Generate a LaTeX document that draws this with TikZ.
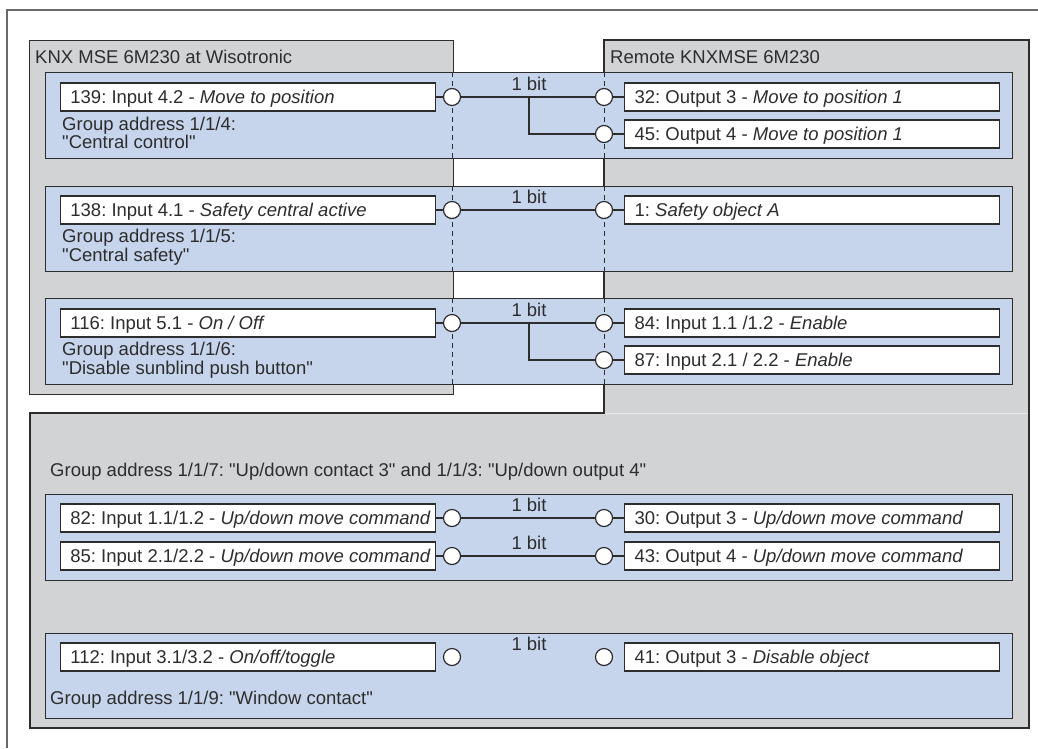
\documentclass[tikz,border=0pt]{standalone}
\usepackage{fontspec}
\setmainfont{Liberation Sans}
\frenchspacing
\definecolor{boxgray}{RGB}{210,211,213}
\definecolor{bandblue}{RGB}{198,212,236}
\definecolor{ink}{RGB}{45,45,45}
\definecolor{framegray}{RGB}{105,105,105}
% object label: fixed text field, left aligned
\newcommand\objtext[1]{\makebox[355pt][l]{#1}}
\newcommand\qd{\textquotedbl}
\tikzset{
  txt/.style={font=\fontsize{18.5}{20}\selectfont, text=ink, inner sep=0pt},
  device/.style={draw=ink, line width=1.3pt, fill=boxgray},
  band/.style={draw=ink, line width=1.3pt, fill=bandblue, inner sep=0pt, minimum width=967pt, anchor=north west},
  objbox/.style={txt, draw=ink, line width=1.2pt, fill=white, minimum width=375pt,
    minimum height=28pt, inner xsep=10pt, inner ysep=0pt, text height=13pt, text depth=0pt},
  lbox/.style={objbox, anchor=east},
  rbox/.style={objbox, anchor=west},
  port/.style={circle, draw=ink, line width=1.2pt, fill=white, minimum size=17pt, inner sep=0pt},
  wire/.style={draw=ink, line width=1.2pt},
  divider/.style={draw=ink, line width=1pt, dash pattern=on 5pt off 4pt},
  bitlabel/.style={txt, anchor=base},
  caption/.style={txt, anchor=base west},
}
\begin{document}
\begin{tikzpicture}[x=1pt, y=-1pt]
\useasboundingbox (0,0) rectangle (1038,748);

% outer frame (top and left edge)
\draw[framegray, line width=2pt] (7,748) -- (7,10) -- (1038,10);

% the two devices
\node[device, anchor=north west, minimum width=424pt, minimum height=354pt, inner sep=0pt] (wiso) at (29,40) {};
\draw[device] (30,413) -- (604,413) -- (604,40) -- (1029,40) -- (1029,728) -- (30,728) -- cycle;
\draw[white!45!boxgray, line width=1pt] (604.8,413) -- (1028.2,413);
\node[caption] (wisotitle) at (35,63) {KNX MSE 6M230 at Wisotronic};
\node[caption] (remotetitle) at (610,63) {Remote KNXMSE 6M230};

% column positions of the ports
\coordinate (cl) at (452,0);
\coordinate (cr) at (604,0);
\coordinate (cm) at (529,0);

% group address bands
\node[band, minimum height=86pt] (b1) at (45,72) {};
\node[band, minimum height=85pt] (b2) at (45,186) {};
\node[band, minimum height=86pt] (b3) at (45,298) {};
\node[band, minimum height=86pt] (b4) at (45,494) {};
\node[band, minimum height=85pt] (b5) at (45,633) {};

% device borders continued through the bands
\foreach \b in {b1,b2,b3}{
  \draw[divider] (\b.north -| cl) -- (\b.south -| cl);
  \draw[divider] (\b.north -| cr) -- (\b.south -| cr);
}

% ---- band 1: central control
\node[lbox] (o139) at (436,97) {\objtext{139: Input 4.2 - \textit{Move to position}}};
\node[rbox] (o32) at (624,97) {\objtext{32: Output 3 - \textit{Move to position 1}}};
\node[rbox] (o45) at (624,134) {\objtext{45: Output 4 - \textit{Move to position 1}}};
\node[port] (p139) at (cl |- o139) {};
\node[port] (p32) at (cr |- o32) {};
\node[port] (p45) at (cr |- o45) {};
\draw[wire] (o139.east) -- (p139.west);
\draw[wire] (p139.east) -- (p32.west);
\draw[wire] (p32.east) -- (o32.west);
\draw[wire] (p45.east) -- (o45.west);
\coordinate (j1) at (cm |- p32);
\draw[wire] (j1) |- (p45.west);
\node[bitlabel] (bit1) at (529,90) {1 bit};
\node[caption] (ga4a) at (62,130) {Group address 1/1/4:};
\node[caption] (ga4b) at (62,148.5) {\qd Central control\qd};

% ---- band 2: central safety
\node[lbox] (o138) at (436,210) {\objtext{138: Input 4.1 - \textit{Safety central active}}};
\node[rbox] (o1) at (624,210) {\objtext{1: \textit{Safety object A}}};
\node[port] (p138) at (cl |- o138) {};
\node[port] (p1) at (cr |- o1) {};
\draw[wire] (o138.east) -- (p138.west);
\draw[wire] (p138.east) -- (p1.west);
\draw[wire] (p1.east) -- (o1.west);
\node[bitlabel] (bit2) at (529,203) {1 bit};
\node[caption] (ga5a) at (62,242) {Group address 1/1/5:};
\node[caption] (ga5b) at (62,261) {\qd Central safety\qd};

% ---- band 3: disable sunblind push button
\node[lbox] (o116) at (436,323) {\objtext{116: Input 5.1 - \textit{On / Off}}};
\node[rbox] (o84) at (624,323) {\objtext{84: Input 1.1 /1.2 - \textit{Enable}}};
\node[rbox] (o87) at (624,360) {\objtext{87: Input 2.1 / 2.2 - \textit{Enable}}};
\node[port] (p116) at (cl |- o116) {};
\node[port] (p84) at (cr |- o84) {};
\node[port] (p87) at (cr |- o87) {};
\draw[wire] (o116.east) -- (p116.west);
\draw[wire] (p116.east) -- (p84.west);
\draw[wire] (p84.east) -- (o84.west);
\draw[wire] (p87.east) -- (o87.west);
\coordinate (j3) at (cm |- p84);
\draw[wire] (j3) |- (p87.west);
\node[bitlabel] (bit3) at (529,316) {1 bit};
\node[caption] (ga6a) at (62,355.5) {Group address 1/1/6:};
\node[caption] (ga6b) at (62,374) {\qd Disable sunblind push button\qd};

% ---- band 4: up/down commands
\node[caption] (ga7) at (50,476) {Group address 1/1/7: \qd Up/down contact 3\qd{} and 1/1/3: \qd Up/down output 4\qd};
\node[lbox] (o82) at (436,518) {\objtext{82: Input 1.1/1.2 - \textit{Up/down move command}}};
\node[lbox] (o85) at (436,556) {\objtext{85: Input 2.1/2.2 - \textit{Up/down move command}}};
\node[rbox] (o30) at (624,518) {\objtext{30: Output 3 - \textit{Up/down move command}}};
\node[rbox] (o43) at (624,556) {\objtext{43: Output 4 - \textit{Up/down move command}}};
\node[port] (p82) at (cl |- o82) {};
\node[port] (p85) at (cl |- o85) {};
\node[port] (p30) at (cr |- o30) {};
\node[port] (p43) at (cr |- o43) {};
\draw[wire] (o82.east) -- (p82.west);
\draw[wire] (p82.east) -- (p30.west);
\draw[wire] (p30.east) -- (o30.west);
\draw[wire] (o85.east) -- (p85.west);
\draw[wire] (p85.east) -- (p43.west);
\draw[wire] (p43.east) -- (o43.west);
\node[bitlabel] (bit4) at (529,511) {1 bit};
\node[bitlabel] (bit5) at (529,549) {1 bit};

% ---- band 5: window contact
\node[lbox] (o112) at (436,657) {\objtext{112: Input 3.1/3.2 - \textit{On/off/toggle}}};
\node[rbox] (o41) at (624,657) {\objtext{41: Output 3 - \textit{Disable object}}};
\node[port] (p112) at (cl |- o112) {};
\node[port] (p41) at (cr |- o41) {};
\node[bitlabel] (bit6) at (529,650) {1 bit};
\node[caption] (ga9) at (50,704) {Group address 1/1/9: \qd Window contact\qd};
\end{tikzpicture}
\end{document}
